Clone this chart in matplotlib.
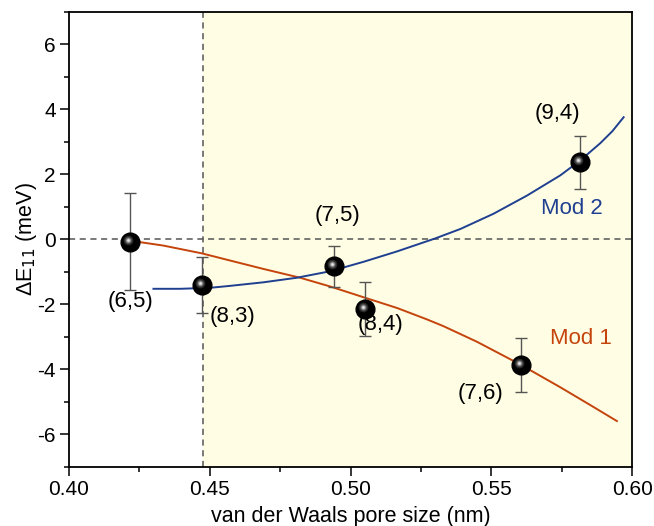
import matplotlib
matplotlib.use("Agg")
import matplotlib.pyplot as plt
import matplotlib.transforms as mtransforms
from matplotlib.ticker import MultipleLocator, FormatStrFormatter

plt.rcParams['font.family'] = ['Liberation Sans', 'DejaVu Sans']
plt.rcParams['axes.unicode_minus'] = False

# measured points
labels = ['(6,5)', '(8,3)', '(7,5)', '(8,4)', '(7,6)', '(9,4)']
pore = [0.4217, 0.4472, 0.4943, 0.5053, 0.5605, 0.5816]
dE = [-0.08, -1.42, -0.83, -2.15, -3.87, 2.36]
err = [1.49, 0.86, 0.63, 0.82, 0.84, 0.82]
label_x = [0.4217, 0.4579, 0.4952, 0.5105, 0.5461, 0.5735]
label_y = [-1.92, -2.38, 0.73, -2.63, -4.76, 3.87]

# model curves
mod1_x = [0.4217, 0.4335, 0.4472, 0.4572, 0.4691, 0.4821, 0.4928, 0.5046, 0.5165,
          0.5271, 0.5330, 0.5449, 0.5603, 0.5745, 0.5852, 0.5946]
mod1_y = [-0.05, -0.20, -0.44, -0.66, -0.92, -1.19, -1.46, -1.79, -2.12,
          -2.47, -2.68, -3.16, -3.86, -4.56, -5.11, -5.60]
mod2_x = [0.4300, 0.4395, 0.4501, 0.4572, 0.4691, 0.4809, 0.4928, 0.5046, 0.5165,
          0.5301, 0.5390, 0.5508, 0.5627, 0.5745, 0.5816, 0.5887, 0.5930, 0.5970]
mod2_y = [-1.53, -1.53, -1.50, -1.44, -1.33, -1.19, -0.99, -0.70, -0.38,
          0.02, 0.31, 0.78, 1.34, 1.96, 2.42, 2.95, 3.32, 3.75]

vdw_limit = 0.4475

fig = plt.figure(figsize=(6.54, 5.26), dpi=100)
ax = fig.add_axes([0.1055, 0.113, 0.861, 0.865])

ax.axvspan(vdw_limit, 0.60, color='#fffde4', zorder=0)
ax.axvline(vdw_limit, color='#555555', ls=(0, (4, 3)), lw=1.1, zorder=1)
ax.axhline(0, color='#555555', ls=(0, (4, 3)), lw=1.1, zorder=1)

ax.plot(mod1_x, mod1_y, color='#c4440c', lw=1.4, zorder=2, solid_joinstyle='round')
ax.plot(mod2_x, mod2_y, color='#1f3f90', lw=1.4, zorder=2, solid_joinstyle='round')

ax.errorbar(pore, dE, yerr=err, fmt='none', ecolor='#555555', elinewidth=1,
            capsize=4, capthick=1, zorder=3)

# sphere-like markers: black ball plus a soft highlight
ax.plot(pore, dE, 'o', ms=13.5, color='black', zorder=4)
shift = mtransforms.offset_copy(ax.transData, fig=fig, x=-1.5, y=1.5, units='points')
for ms, c in [(7, '#2a2a2a'), (5, '#555555'), (3.5, '#949494'), (2, '#e0e0e0')]:
    ax.plot(pore, dE, 'o', ms=ms, color=c, mec='none', transform=shift, zorder=5)

for lx, ly, t in zip(label_x, label_y, labels):
    ax.text(lx, ly, t, fontsize=16, ha='center', va='center')

ax.text(0.5787, 0.93, 'Mod 2', color='#1f3f90', fontsize=16, ha='center', va='center')
ax.text(0.5818, -3.07, 'Mod 1', color='#c4440c', fontsize=16, ha='center', va='center')

ax.set_xlim(0.40, 0.60)
ax.set_ylim(-7, 7)
ax.xaxis.set_major_locator(MultipleLocator(0.05))
ax.xaxis.set_minor_locator(MultipleLocator(0.025))
ax.yaxis.set_major_locator(MultipleLocator(2))
ax.yaxis.set_minor_locator(MultipleLocator(1))
ax.xaxis.set_major_formatter(FormatStrFormatter('%.2f'))
ax.tick_params(which='major', direction='out', length=6.5, width=1.1, labelsize=15, pad=3)
ax.tick_params(which='minor', direction='out', length=3.5, width=1.1)
for s in ax.spines.values():
    s.set_linewidth(1.3)

ax.set_xlabel('van der Waals pore size (nm)', fontsize=15.5, labelpad=5)
ax.set_ylabel('ΔE$_{11}$ (meV)', fontsize=15.5, labelpad=-1)

fig.savefig('out.png', dpi=100)
